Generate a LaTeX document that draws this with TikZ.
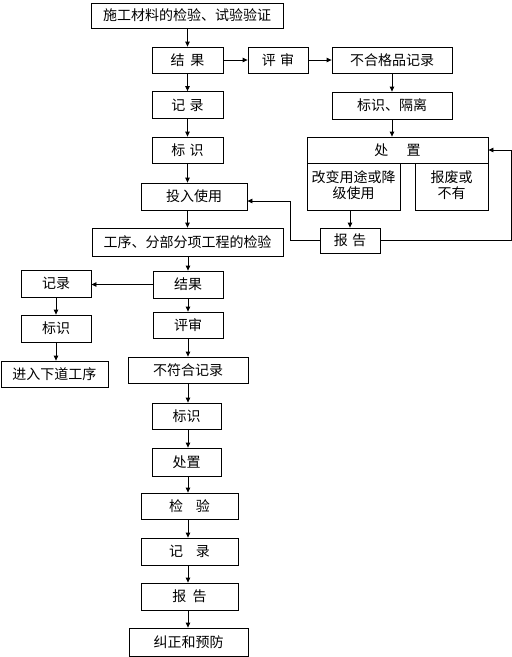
\documentclass[tikz,border=0pt]{standalone}
\usepackage{fontspec}
\newfontfamily\cjk{Noto Sans CJK SC}
\usetikzlibrary{arrows.meta}
\tikzset{
  bx/.style={draw, line width=0.8pt, inner sep=0pt, font=\cjk\fontsize{14}{16}\selectfont, align=center},
  arr/.style={line width=0.8pt, -{Triangle[length=5pt,width=4.5pt]}},
  ln/.style={line width=0.8pt}
}
\newcommand{\bxat}[6]{\node[bx, minimum width=#3pt, minimum height=#4pt] (#5) at (#1,#2) {#6};}
\begin{document}
\begin{tikzpicture}[x=1pt,y=-1pt]
\useasboundingbox (0,0) rectangle (512,657);
% top column
\bxat{187}{15.5}{192}{25}{b1}{施工材料的检验、试验验证}
\bxat{187.5}{60}{71}{26}{res1}{结\hspace{0.4em}果}
\bxat{278}{60}{60}{26}{rev1}{评\hspace{0.3em}审}
\bxat{392}{60}{120}{26}{nc1}{不合格品记录}
\bxat{392}{105.5}{120}{27}{iso}{标识、隔离}
\bxat{397.5}{150}{181}{26}{hdr}{处\hspace{1.3em}置}
\node[bx, minimum width=93pt, minimum height=47pt] (subL) at (353.5,186.5) {};
\node[font=\cjk\fontsize{14}{16}\selectfont, align=center, inner sep=0pt] (subLt) at (353.5,185.5) {改变用途或降\\级使用};
\node[bx, minimum width=73pt, minimum height=47pt] (subR) at (451.5,186.5) {};
\node[font=\cjk\fontsize{14}{16}\selectfont, align=center, inner sep=0pt] (subRt) at (451.5,185.5) {报废或\\不有};
\bxat{350}{240.5}{60}{25}{rpR}{报\hspace{0.3em}告}
\bxat{187.5}{105}{71}{27}{rec1}{记\hspace{0.3em}录}
\bxat{187.5}{150}{71}{26}{id1}{标\hspace{0.3em}识}
\bxat{194}{196.5}{106}{27}{use}{投入使用}
\bxat{187.5}{242}{191}{28}{proc}{工序、分部分项工程的检验}
\bxat{188}{284.5}{70}{27}{res2}{结果}
\bxat{56}{283.5}{70}{27}{recL}{记录}
\bxat{56}{328.5}{70}{27}{idL}{标识}
\bxat{54.5}{374}{107}{26}{next}{进入下道工序}
\bxat{188}{325}{70}{26}{rev2}{评审}
\bxat{188}{370}{120}{26}{nc2}{不符合记录}
\bxat{186.5}{416}{69}{26}{id3}{标识}
\bxat{186.5}{462}{69}{28}{dis2}{处置}
\bxat{189.5}{506}{97}{26}{chk}{检\hspace{0.9em}验}
\bxat{189.5}{551.5}{97}{27}{rec3}{记\hspace{0.9em}录}
\bxat{189.5}{596.5}{97}{27}{rp3}{报\hspace{0.45em}告}
\bxat{188.5}{642}{119}{28}{fix}{纠正和预防}
% column coordinates
\coordinate (cA) at (187.5,0);
\coordinate (cB) at (188,0);
\coordinate (cL) at (56,0);
% top column arrows
\draw[arr] (b1.south -| cA) -- (res1.north -| cA);
\draw[arr] (res1) -- (rev1);
\draw[arr] (rev1) -- (nc1);
\draw[arr] (nc1) -- (iso);
\draw[arr] (iso.south) -- (iso.south |- hdr.north);
\draw[arr] (res1.south -| cA) -- (rec1.north -| cA);
\draw[arr] (rec1.south -| cA) -- (id1.north -| cA);
\draw[arr] (id1.south -| cA) -- (use.north -| cA);
\draw[arr] (use.south -| cA) -- (proc.north -| cA);
\draw[arr] (proc.south -| cB) -- (res2.north -| cB);
\draw[arr] (res2.south -| cB) -- (rev2.north -| cB);
\draw[arr] (rev2.south -| cB) -- (nc2.north -| cB);
\draw[arr] (nc2.south -| cB) -- (id3.north -| cB);
\draw[arr] (id3.south -| cB) -- (dis2.north -| cB);
\draw[arr] (dis2.south -| cB) -- (chk.north -| cB);
\draw[arr] (chk.south -| cB) -- (rec3.north -| cB);
\draw[arr] (rec3.south -| cB) -- (rp3.north -| cB);
\draw[arr] (rp3.south -| cB) -- (fix.north -| cB);
% left branch
\draw[arr] (res2.west) -- (recL.east |- res2.west);
\draw[arr] (recL.south -| cL) -- (idL.north -| cL);
\draw[arr] (idL.south -| cL) -- (next.north -| cL);
% right side
\draw[arr] (subL.south -| rpR) -- (rpR.north);
\coordinate (r1) at (511.5,240.5);
\coordinate (r2) at (511.5,150);
\draw[arr] (rpR.east) -- (r1) -- (r2) -- (hdr.east);
\coordinate (l1) at (290,240.5);
\coordinate (l2) at (290,201);
\draw[arr] (rpR.west) -- (l1) -- (l2) -- (use.east |- l2);
\end{tikzpicture}
\end{document}
